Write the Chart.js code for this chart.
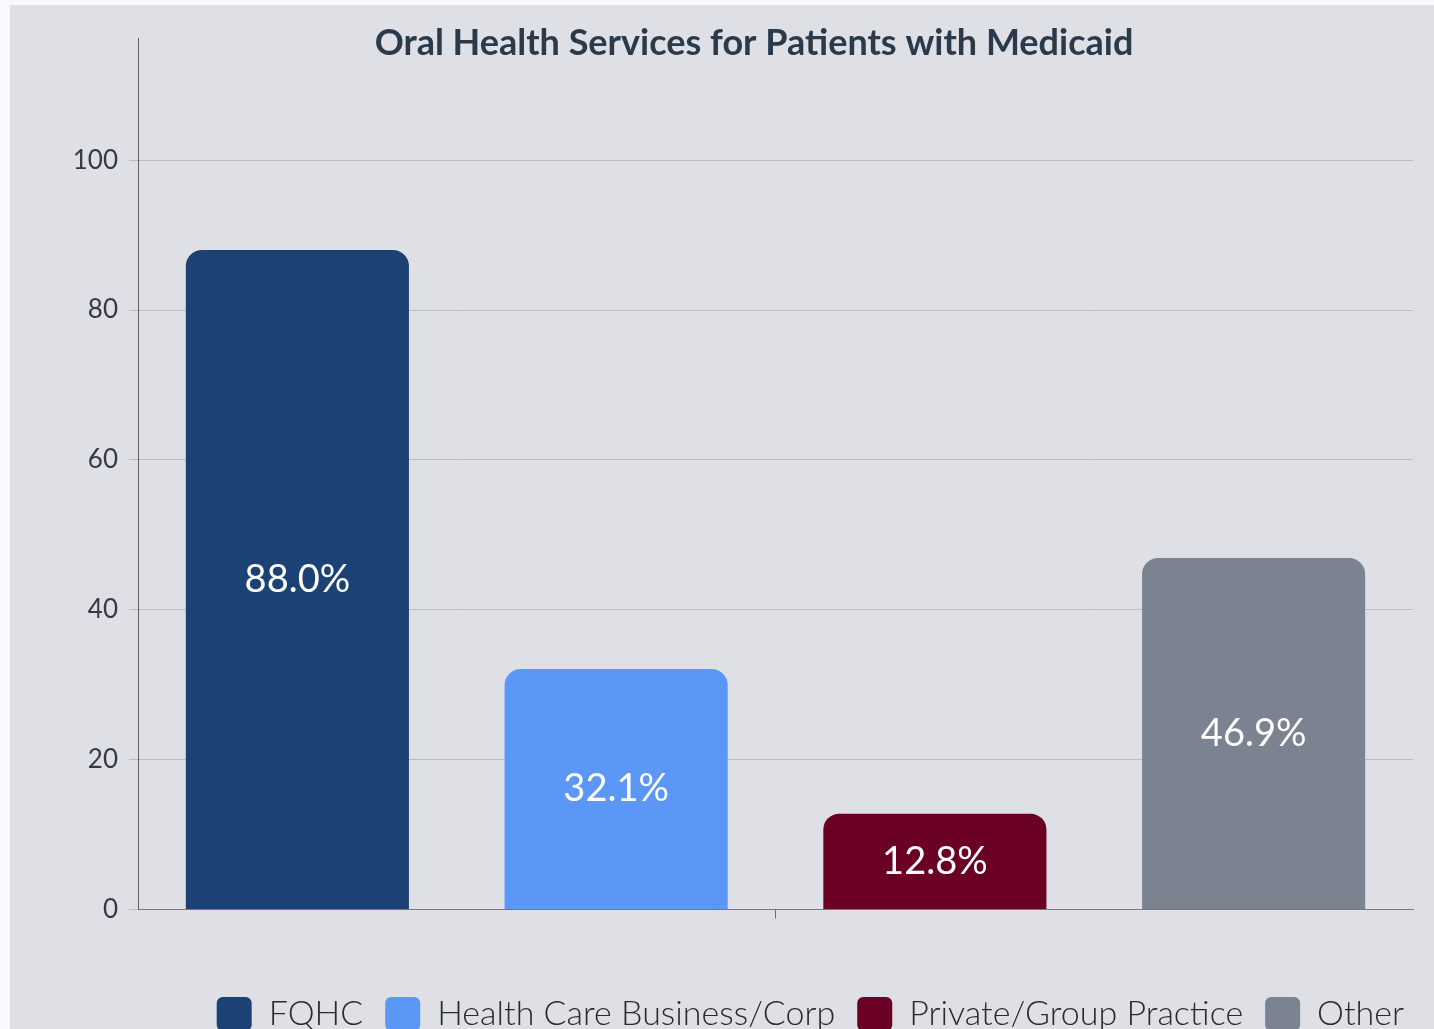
<!DOCTYPE html>
<html>
<head>
<meta charset="utf-8">
<script src="https://cdn.jsdelivr.net/npm/chart.js@4.4.1/dist/chart.umd.min.js"></script>
<style>
  html, body { margin: 0; padding: 0; background: #f8f9fd; overflow: hidden; }
  #bg { position: absolute; left: 10px; top: 5px; right: 0; bottom: 0; background: #dfe0e6; }
  #wrap { position: absolute; left: 10px; top: 5px; width: 1416px; height: 1036px; }
</style>
</head>
<body>
<div id="bg"></div>
<div id="wrap"><canvas id="chart"></canvas></div>
<script>
// データ
const categories = [''];
const seriesNames = ['FQHC', 'Health Care Business/Corp', 'Private/Group Practice', 'Other'];
const seriesValues = [88.0, 32.1, 12.8, 46.9];
const seriesColors = ['#1c4275', '#5b97f6', '#6a0023', '#7a838f'];
const yTicks = [0, 20, 40, 60, 80, 100];

const chartTitle = 'Oral Health Services for Patients with Medicaid';

// タイトルとバー上の数値を描くプラグイン
const overlayText = {
    id: 'overlayText',
    afterDatasetsDraw(chart) {
        const ctx = chart.ctx;
        ctx.save();
        ctx.fillStyle = '#ffffff';
        ctx.font = '400 38px Lato';
        ctx.textAlign = 'center';
        ctx.textBaseline = 'middle';
        chart.data.datasets.forEach((ds, i) => {
            const meta = chart.getDatasetMeta(i);
            meta.data.forEach((bar, j) => {
                const p = bar.getCenterPoint();
                ctx.fillText(ds.data[j].toFixed(1) + '%', p.x, p.y);
            });
        });
        ctx.restore();
    },
    afterDraw(chart) {
        const ctx = chart.ctx;
        ctx.save();
        ctx.fillStyle = '#2b3a4b';
        ctx.font = '700 36px Lato';
        ctx.textAlign = 'center';
        ctx.textBaseline = 'middle';
        ctx.fillText(chartTitle, 744, 38);
        ctx.restore();
    }
};

const datasets = seriesNames.map((name, i) => ({
    label: name,
    data: [seriesValues[i]],
    backgroundColor: seriesColors[i],
    borderWidth: 0,
    borderRadius: 16,
    categoryPercentage: 1.0,
    barPercentage: 0.7
}));

new Chart(document.getElementById('chart'), {
    type: 'bar',
    data: { labels: categories, datasets: datasets },
    options: {
        responsive: true,
        maintainAspectRatio: false,
        animation: false,
        layout: { padding: { top: 33, left: 0, right: 0, bottom: 0 } },
        plugins: {
            title: { display: false },
            tooltip: { enabled: false },
            legend: {
                position: 'bottom',
                align: 'end',
                fullSize: true,
                labels: {
                    boxWidth: 35,
                    boxHeight: 34,
                    useBorderRadius: true,
                    borderRadius: 6,
                    padding: 22,
                    color: '#2a2a2a',
                    font: { family: 'Lato', size: 34, weight: '300' }
                }
            }
        },
        scales: {
            x: {
                grid: { drawOnChartArea: false, offset: false, tickLength: 9, color: '#707070' },
                border: { color: '#7a7a7a' },
                ticks: { display: true, padding: 21, font: { size: 12 } }
            },
            y: {
                min: 0,
                max: 116.3,
                afterFit: (s) => { s.width = 128; },
                afterBuildTicks: (s) => { s.ticks = yTicks.map(v => ({ value: v })); },
                grid: { color: '#bcbdc4', tickLength: 9 },
                border: { color: '#5e5e5e' },
                ticks: {
                    padding: 11,
                    color: '#353a44',
                    font: { family: 'Lato', size: 26 }
                }
            },
            y2: {
                position: 'right',
                display: true,
                afterFit: (s) => { s.width = 13; },
                grid: { display: false },
                border: { display: false },
                ticks: { display: false }
            }
        }
    },
    plugins: [overlayText]
});
</script>
</body>
</html>
